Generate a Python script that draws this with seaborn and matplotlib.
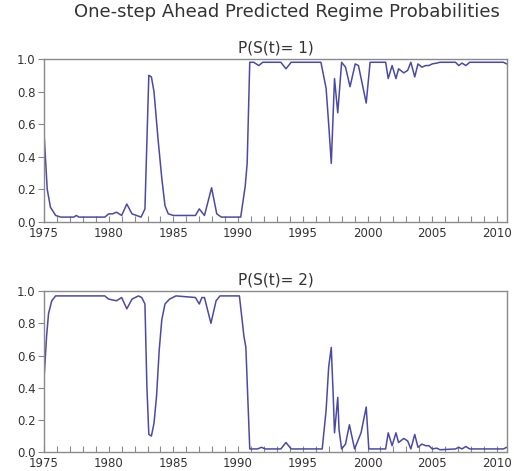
import matplotlib
matplotlib.use("Agg")
import matplotlib.pyplot as plt
import seaborn as sns
import pandas as pd
from matplotlib.ticker import MultipleLocator

# ---- data ----
p1_years = [1975.0, 1975.25, 1975.5, 1975.9, 1976.3, 1977.3, 1977.5, 1977.7, 1979.7,
            1980.0, 1980.3, 1980.6, 1981.0, 1981.4, 1981.8, 1982.5, 1982.8, 1983.1,
            1983.3, 1983.5, 1983.8, 1984.1, 1984.35, 1984.6, 1985.0, 1986.7, 1987.0,
            1987.4, 1987.95, 1988.35, 1988.7, 1990.2, 1990.55, 1990.7, 1990.9, 1991.2,
            1991.6, 1991.9, 1993.3, 1993.7, 1994.1, 1996.4, 1996.8, 1997.0, 1997.2,
            1997.45, 1997.7, 1998.0, 1998.3, 1998.65, 1999.05, 1999.3, 1999.9, 2000.2,
            2001.4, 2001.6, 2001.9, 2002.2, 2002.4, 2002.8, 2003.1, 2003.35, 2003.65,
            2003.9, 2004.2, 2004.5, 2004.75, 2005.0, 2005.35, 2005.6, 2006.8, 2007.05,
            2007.3, 2007.6, 2007.9, 2010.5, 2010.75]
p1_values = [0.55, 0.20, 0.09, 0.04, 0.03, 0.03, 0.04, 0.03, 0.03,
             0.05, 0.05, 0.06, 0.04, 0.11, 0.05, 0.03, 0.08, 0.90,
             0.89, 0.80, 0.52, 0.27, 0.10, 0.05, 0.04, 0.04, 0.08,
             0.04, 0.21, 0.05, 0.03, 0.03, 0.22, 0.36, 0.98, 0.98,
             0.96, 0.98, 0.98, 0.94, 0.98, 0.98, 0.82, 0.60, 0.36,
             0.88, 0.67, 0.98, 0.95, 0.83, 0.97, 0.96, 0.73, 0.98,
             0.98, 0.88, 0.96, 0.88, 0.94, 0.915, 0.93, 0.98, 0.89,
             0.97, 0.95, 0.96, 0.96, 0.97, 0.975, 0.98, 0.98, 0.96,
             0.975, 0.96, 0.98, 0.98, 0.97]

p2_years = [1975.0, 1975.2, 1975.35, 1975.6, 1975.9, 1979.7, 1980.0, 1980.6, 1981.0,
            1981.4, 1981.8, 1982.3, 1982.55, 1982.8, 1982.95, 1983.1, 1983.3, 1983.5,
            1983.7, 1983.9, 1984.1, 1984.35, 1984.7, 1985.2, 1986.7, 1987.0, 1987.2,
            1987.4, 1987.9, 1988.3, 1988.6, 1990.1, 1990.45, 1990.6, 1990.9, 1991.5,
            1991.8, 1992.1, 1993.3, 1993.7, 1994.1, 1996.5, 1996.8, 1997.0, 1997.2,
            1997.35, 1997.45, 1997.7, 1997.8, 1998.0, 1998.3, 1998.6, 1999.0, 1999.5,
            1999.9, 2000.1, 2001.4, 2001.6, 2001.9, 2002.2, 2002.4, 2002.8, 2003.1,
            2003.35, 2003.65, 2003.9, 2004.2, 2004.5, 2004.75, 2005.0, 2005.35, 2005.6,
            2006.8, 2007.05, 2007.3, 2007.6, 2007.9, 2010.5, 2010.75]
p2_values = [0.45, 0.72, 0.86, 0.94, 0.97, 0.97, 0.95, 0.94, 0.96,
             0.89, 0.95, 0.97, 0.96, 0.92, 0.41, 0.11, 0.10, 0.18,
             0.35, 0.63, 0.82, 0.92, 0.95, 0.97, 0.96, 0.92, 0.96,
             0.96, 0.80, 0.94, 0.97, 0.97, 0.72, 0.65, 0.02, 0.02,
             0.03, 0.02, 0.02, 0.06, 0.02, 0.02, 0.26, 0.53, 0.65,
             0.35, 0.12, 0.34, 0.14, 0.02, 0.05, 0.17, 0.02, 0.12,
             0.28, 0.02, 0.02, 0.12, 0.04, 0.12, 0.06, 0.085, 0.07,
             0.02, 0.11, 0.03, 0.05, 0.04, 0.04, 0.02, 0.025, 0.015,
             0.02, 0.03, 0.02, 0.035, 0.02, 0.02, 0.03]

main_title = "One-step Ahead Predicted Regime Probabilities"
panel_titles = ["P(S(t)= 1)", "P(S(t)= 2)"]
x_ticks = [1975, 1980, 1985, 1990, 1995, 2000, 2005, 2010]
y_ticks = [0.0, 0.2, 0.4, 0.6, 0.8, 1.0]

sns.set_style("white")
plt.rcParams['font.family'] = ['DejaVu Sans']

line_color = "#4a4aa6"
spine_color = "#8a8a8a"
text_color = "#333333"

fig = plt.figure(figsize=(5.14, 4.71), dpi=100)
ax1 = fig.add_axes([0.0856, 0.5287, 0.9008, 0.346])
ax2 = fig.add_axes([0.0856, 0.0400, 0.9008, 0.342])

series = [
    pd.DataFrame({"year": p1_years, "prob": p1_values}),
    pd.DataFrame({"year": p2_years, "prob": p2_values}),
]

for ax, df, t in zip([ax1, ax2], series, panel_titles):
    sns.lineplot(data=df, x="year", y="prob", ax=ax, color=line_color,
                 linewidth=1.1, estimator=None)
    ax.set_xlim(1975.0, 2010.78)
    ax.set_ylim(0.0, 1.0)
    ax.set_xticks(x_ticks)
    ax.set_xticklabels([str(v) for v in x_ticks])
    ax.xaxis.set_minor_locator(MultipleLocator(1))
    ax.set_yticks(y_ticks)
    ax.set_yticklabels([f"{v:.1f}" for v in y_ticks])
    ax.set_xlabel("")
    ax.set_ylabel("")
    ax.tick_params(axis="x", which="both", direction="in", length=4, width=0.8,
                   colors=spine_color, labelcolor=text_color, labelsize=8.5, pad=3.5,
                   bottom=True)
    ax.tick_params(axis="y", which="both", direction="out", length=4, width=0.8,
                   colors=spine_color, labelcolor=text_color, labelsize=8.5, pad=2,
                   left=True)
    for s in ax.spines.values():
        s.set_color(spine_color)
        s.set_linewidth(1.0)
        s.set_visible(True)
    ax.set_title(t, fontsize=11, color=text_color, pad=5)

fig.text(0.558, 0.974, main_title, ha="center", va="center",
         fontsize=13, color=text_color)

fig.savefig("out.png", dpi=100)
